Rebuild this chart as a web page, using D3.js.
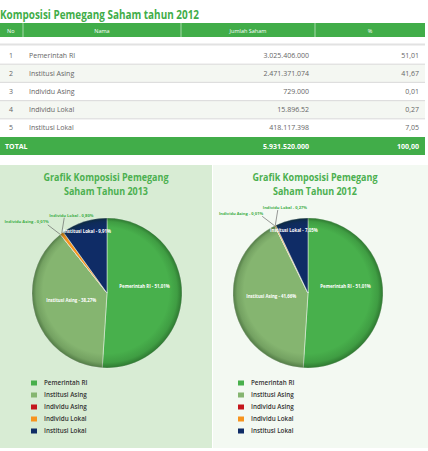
<!DOCTYPE html>
<html><head><meta charset="utf-8">
<script src="https://cdn.jsdelivr.net/npm/d3@7"></script>
<style>body{margin:0;background:#fff}svg{display:block;font-family:"Open Sans",sans-serif}</style>
</head><body><svg id="c" width="428" height="451"></svg>
<script>
// ---------- data ----------
const tableTitle = "Komposisi Pemegang Saham tahun 2012";
const headers = ["No", "Nama", "Jumlah Saham", "%"];
const rowNo = [1, 2, 3, 4, 5];
const rowNames = ["Pemerintah RI", "Institusi Asing", "Individu Asing", "Individu Lokal", "Institusi Lokal"];
const rowShares = ["3.025.406.000", "2.471.371.074", "729.000", "15.896.52", "418.117.398"];
const rowPct = ["51,01", "41,67", "0,01", "0,27", "7,05"];
const totalLabel = "TOTAL";
const totalShares = "5.931.520.000";
const totalPct = "100,00";
const categories = ["Pemerintah RI", "Institusi Asing", "Individu Asing", "Individu Lokal", "Institusi Lokal"];
const values2013 = [51.01, 38.27, 0.01, 0.80, 9.91];
const values2012 = [51.01, 41.66, 0.01, 0.27, 7.05];
const titles2013 = ["Grafik Komposisi Pemegang", "Saham Tahun 2013"];
const titles2012 = ["Grafik Komposisi Pemegang", "Saham Tahun 2012"];

// ---------- setup ----------
const svg = d3.select("#c");
const GREEN = "#41ad49";
const color = d3.scaleOrdinal().domain(categories)
  .range(["#48b04c", "#85b570", "#c4161c", "#f7941e", "#0f2c66"]);
const loc = d3.formatLocale({decimal: ",", thousands: ".", grouping: [3], currency: ["", ""]});
const fmt = loc.format(".2f");

// ---------- table ----------
svg.append("text").attr("x", 0).attr("y", 19)
  .attr("font-size", 12).attr("font-weight", "bold").attr("fill", GREEN)
  .attr("textLength", 199).attr("lengthAdjust", "spacingAndGlyphs")
  .text(tableTitle);

const colEdges = [0, 23, 181, 315, 425];
svg.append("rect").attr("x", 0).attr("y", 23).attr("width", 425).attr("height", 14).attr("fill", GREEN);
colEdges.slice(1, 4).forEach(x => svg.append("line").attr("x1", x).attr("x2", x)
  .attr("y1", 23).attr("y2", 37).attr("stroke", "#bfe3c1").attr("stroke-width", 0.8));
headers.forEach((h, i) => {
  const t = svg.append("text").attr("y", 32.5).attr("font-size", 5.5).attr("fill", "#fff").text(h);
  if (i === 0) t.attr("x", 7);
  else t.attr("x", (colEdges[i] + colEdges[i + 1]) / 2).attr("text-anchor", "middle");
});
svg.append("rect").attr("x", 0).attr("y", 43.5).attr("width", 425).attr("height", 2).attr("fill", "#e2e2e2");

const rowY = d3.scaleBand().domain(d3.range(rowNames.length)).range([46, 137]);
const rows = svg.append("g").selectAll("g").data(rowNames).join("g")
  .attr("transform", (d, i) => `translate(0,${rowY(i)})`);
rows.append("rect").attr("width", 425).attr("height", rowY.bandwidth())
  .attr("fill", (d, i) => i % 2 ? "#f4f7f2" : "#fff");
rows.filter((d, i) => i > 0).append("rect").attr("y", -0.6).attr("width", 425).attr("height", 1.2).attr("fill", "#dedede");
const ty = rowY.bandwidth() / 2 + 2.5;
rows.append("text").attr("x", 11).attr("y", ty).attr("text-anchor", "middle")
  .attr("font-size", 7).attr("fill", "#666").text((d, i) => rowNo[i]);
rows.append("text").attr("x", 29).attr("y", ty)
  .attr("font-size", 7).attr("fill", "#666").text(d => d);
rows.append("text").attr("x", 309).attr("y", ty).attr("text-anchor", "end")
  .attr("font-size", 7).attr("fill", "#666").text((d, i) => rowShares[i]);
rows.append("text").attr("x", 419).attr("y", ty).attr("text-anchor", "end")
  .attr("font-size", 7).attr("fill", "#666").text((d, i) => rowPct[i]);

svg.append("rect").attr("x", 0).attr("y", 137).attr("width", 425).attr("height", 18).attr("fill", GREEN);
svg.append("text").attr("x", 5).attr("y", 148.5).attr("font-size", 7).attr("font-weight", "bold").attr("fill", "#fff").text(totalLabel);
svg.append("text").attr("x", 309).attr("y", 148.5).attr("text-anchor", "end").attr("font-size", 7).attr("font-weight", "bold").attr("fill", "#fff").text(totalShares);
svg.append("text").attr("x", 419).attr("y", 148.5).attr("text-anchor", "end").attr("font-size", 7).attr("font-weight", "bold").attr("fill", "#fff").text(totalPct);

// ---------- pies ----------
const defs = svg.append("defs");
const rg = defs.append("radialGradient").attr("id", "shade")
  .attr("cx", "50%").attr("cy", "50%").attr("r", "50%").attr("fx", "46%").attr("fy", "40%");
[[0, 0], [0.84, 0], [0.94, 0.14], [1, 0.42]].forEach(([o, a]) =>
  rg.append("stop").attr("offset", o).attr("stop-color", "#0a2a0a").attr("stop-opacity", a));

const panels = [
  {x0: 0, w: 212, bg: "#d8ecd4", cx: 107, titleX: 106, legX: 31, values: values2013, titles: titles2013},
  {x0: 213, w: 215, bg: "#f3f9f2", cx: 308, titleX: 315, legX: 238, values: values2012, titles: titles2012}
];
const cy = 293, R = 75;
const pie = d3.pie().sort(null).value(d => d.v);
const arc = d3.arc().innerRadius(0).outerRadius(R);
const labelR = [0.5, 0.5, 0, 0, 0.86];
const labelDy = [-8, -4, 0, 0, 0];
const legY = d3.scaleBand().domain(categories).range([377, 437]);

panels.forEach(p => {
  svg.append("rect").attr("x", p.x0).attr("y", 165).attr("width", p.w).attr("height", 283).attr("fill", p.bg);
  p.titles.forEach((t, i) => svg.append("text").attr("x", p.titleX).attr("y", 181 + i * 13.5)
    .attr("text-anchor", "middle").attr("font-size", 10).attr("font-weight", "bold").attr("fill", "#4cb050")
    .attr("textLength", i === 0 ? 125 : 84).attr("lengthAdjust", "spacingAndGlyphs").text(t));

  const g = svg.append("g").attr("transform", `translate(${p.cx},${cy})`);
  const arcs = pie(categories.map((c, i) => ({c, v: p.values[i]})));
  g.selectAll("path.s").data(arcs).join("path").attr("class", "s")
    .attr("d", arc).attr("fill", d => color(d.data.c))
    .attr("stroke", "#eef6ec").attr("stroke-width", 0.5);
  g.append("circle").attr("r", R).attr("fill", "url(#shade)");

  arcs.forEach((d, i) => {
    const lab = `${d.data.c} - ${fmt(d.data.v)}%`;
    const mid = (d.startAngle + d.endAngle) / 2;
    if (labelR[i] > 0) {
      const r = labelR[i] * R;
      g.append("text").attr("x", r * Math.sin(mid)).attr("y", -r * Math.cos(mid) + labelDy[i] + 1.5)
        .attr("text-anchor", "middle").attr("font-size", 4.4).attr("font-weight", "bold")
        .attr("fill", "#fff").text(lab);
    } else {
      const rx = R * Math.sin(mid), ry = -R * Math.cos(mid);
      const asing = i === 2;
      const lx = rx + (asing ? -12.5 : 2.5), ly = ry + (asing ? -9.5 : -15.5);
      g.append("line").attr("x1", rx).attr("y1", ry).attr("x2", lx).attr("y2", ly)
        .attr("stroke", "#555").attr("stroke-width", 0.6);
      g.append("text").attr("x", rx + (asing ? -11.5 : -12.5)).attr("y", ry + (asing ? -11 : -16.5))
        .attr("text-anchor", asing ? "end" : "start").attr("font-size", 4.1).attr("font-weight", "bold")
        .attr("fill", "#3fae49").text(lab);
    }
  });

  const leg = svg.append("g").selectAll("g").data(categories).join("g")
    .attr("transform", d => `translate(${p.legX},${legY(d) + legY.bandwidth() / 2})`);
  leg.append("rect").attr("y", -2.5).attr("width", 6).attr("height", 5).attr("fill", d => color(d));
  leg.append("text").attr("x", 13).attr("y", 2.3).attr("font-size", 6.3).attr("font-weight", 600)
    .attr("fill", "#333").text(d => d);
});
</script></body></html>
